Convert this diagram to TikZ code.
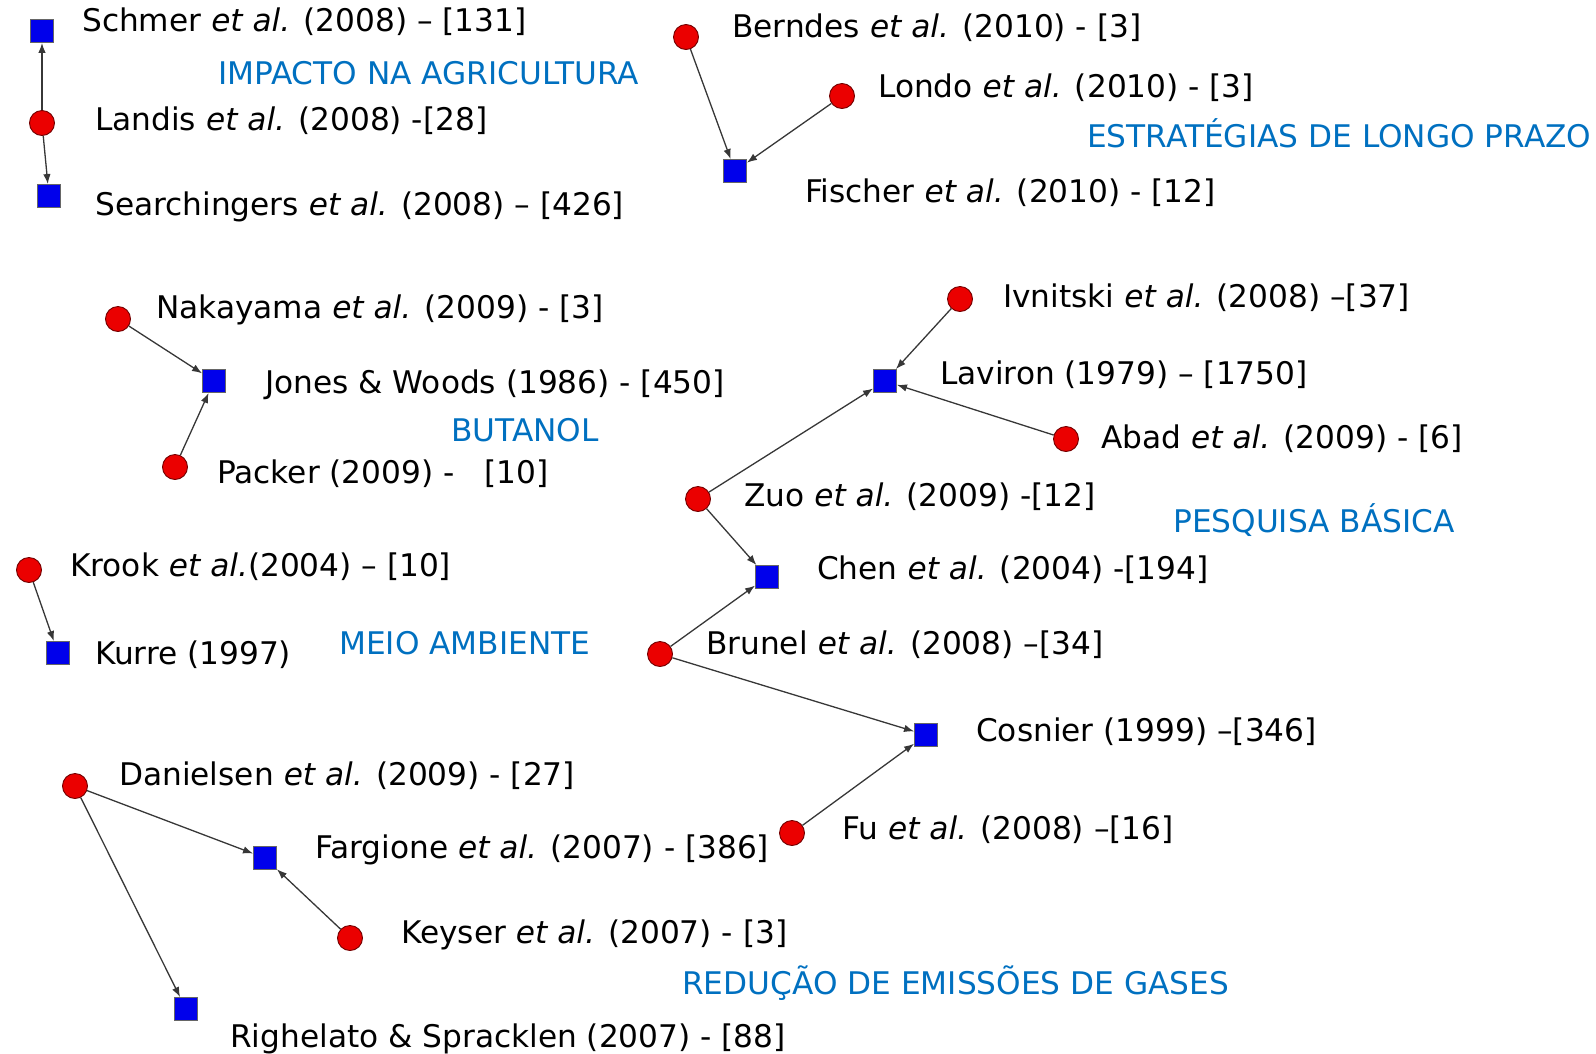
\documentclass[tikz,border=0pt]{standalone}
\usepackage{fontspec}
\setmainfont{DejaVu Sans}
\usetikzlibrary{arrows.meta}
\definecolor{nodeblue}{RGB}{0,0,235}
\definecolor{nodered}{RGB}{235,0,0}
\definecolor{themeblue}{RGB}{0,112,192}
\definecolor{edgegray}{RGB}{55,55,55}
\newcommand{\etal}{\textit{et al.}}
\begin{document}
\begin{tikzpicture}[x=1pt,y=-1pt,
  paper/.style={rectangle,fill=nodeblue,draw=black!60,line width=0.9pt,minimum size=23pt,inner sep=0pt},
  citing/.style={circle,fill=nodered,draw=red!45!black,line width=0.9pt,minimum size=25pt,inner sep=0pt},
  ref/.style={anchor=base west,inner sep=0pt,font=\fontsize{31.2}{36}\selectfont},
  theme/.style={anchor=base west,inner sep=0pt,text=themeblue,font=\fontsize{31.2}{36}\selectfont},
  link/.style={draw=edgegray,line width=1.3pt,-{Latex[length=10pt,width=7.5pt]}}]
\useasboundingbox (0,0) rectangle (1596,1053);

% impacto na agricultura
\node[paper]  (schmer)  at (42,31) {};
\node[citing] (landis)  at (42,123) {};
\node[paper]  (search)  at (49,196) {};
\node[ref] (tschmer) at (82,31) {Schmer \etal{} (2008) – [131]};
\node[ref] (tlandis) at (95,130) {Landis \etal{} (2008) -[28]};
\node[ref] (tsearch) at (95,215) {Searchingers \etal{} (2008) – [426]};
\node[theme] (gagri) at (218,84) {IMPACTO NA AGRICULTURA};
\draw[link] (landis) -- (schmer);
\draw[link] (landis) -- (search);

% estrategias de longo prazo
\node[citing] (berndes) at (686,37) {};
\node[citing] (londo)   at (842,96) {};
\node[paper]  (fischer) at (735,171) {};
\node[ref] (tberndes) at (732,37) {Berndes \etal{} (2010) - [3]};
\node[ref] (tlondo)   at (878,97) {Londo \etal{} (2010) - [3]};
\node[ref] (tfischer) at (805,202) {Fischer \etal{} (2010) - [12]};
\node[theme] (gestr) at (1087,147) {ESTRATÉGIAS DE LONGO PRAZO};
\draw[link] (berndes) -- (fischer);
\draw[link] (londo) -- (fischer);

% butanol
\node[citing] (nakayama) at (118,319) {};
\node[paper]  (jones)    at (214,381) {};
\node[citing] (packer)   at (175,467) {};
\node[ref] (tnakayama) at (156,318) {Nakayama \etal{} (2009) - [3]};
\node[ref] (tjones)    at (265,393) {Jones \& Woods (1986) - [450]};
\node[ref] (tpacker)   at (217,483) {Packer (2009) - \ \ [10]};
\node[theme] (gbut) at (451,441) {BUTANOL};
\draw[link] (nakayama) -- (jones);
\draw[link] (packer) -- (jones);

% pesquisa basica
\node[citing] (ivnitski) at (960,299) {};
\node[paper]  (laviron)  at (885,381) {};
\node[citing] (abad)     at (1066,439) {};
\node[citing] (zuo)      at (698,499) {};
\node[paper]  (chen)     at (767,577) {};
\node[citing] (brunel)   at (660,654) {};
\node[paper]  (cosnier)  at (926,735) {};
\node[citing] (fu)       at (792,833) {};
\node[ref] (tivnitski) at (1003,307) {Ivnitski \etal{} (2008) –[37]};
\node[ref] (tlaviron)  at (940,384) {Laviron (1979) – [1750]};
\node[ref] (tabad)     at (1101,448) {Abad \etal{} (2009) - [6]};
\node[ref] (tzuo)      at (744,506) {Zuo \etal{} (2009) -[12]};
\node[ref] (tchen)     at (817,579) {Chen \etal{} (2004) -[194]};
\node[ref] (tbrunel)   at (706,654) {Brunel \etal{} (2008) –[34]};
\node[ref] (tcosnier)  at (976,741) {Cosnier (1999) –[346]};
\node[ref] (tfu)       at (842,839) {Fu \etal{} (2008) –[16]};
\node[theme] (gpesq) at (1173,532) {PESQUISA BÁSICA};
\draw[link] (ivnitski) -- (laviron);
\draw[link] (abad) -- (laviron);
\draw[link] (zuo) -- (laviron);
\draw[link] (zuo) -- (chen);
\draw[link] (brunel) -- (chen);
\draw[link] (brunel) -- (cosnier);
\draw[link] (fu) -- (cosnier);

% meio ambiente
\node[citing] (krook) at (29,570) {};
\node[paper]  (kurre) at (58,653) {};
\node[ref] (tkrook) at (70,576) {Krook \textit{et al.}(2004) – [10]};
\node[ref] (tkurre) at (95,664) {Kurre (1997)};
\node[theme] (gmeio) at (339,654) {MEIO AMBIENTE};
\draw[link] (krook) -- (kurre);

% reducao de emissoes de gases
\node[citing] (danielsen) at (75,786) {};
\node[paper]  (fargione)  at (265,858) {};
\node[citing] (keyser)    at (350,938) {};
\node[paper]  (righelato) at (186,1009) {};
\node[ref] (tdanielsen) at (119,785) {Danielsen \etal{} (2009) - [27]};
\node[ref] (tfargione)  at (315,858) {Fargione \etal{} (2007) - [386]};
\node[ref] (tkeyser)    at (401,943) {Keyser \etal{} (2007) - [3]};
\node[ref] (trighelato) at (230,1047) {Righelato \& Spracklen (2007) - [88]};
\node[theme] (ggases) at (682,994) {REDUÇÃO DE EMISSÕES DE GASES};
\draw[link] (danielsen) -- (fargione);
\draw[link] (danielsen) -- (righelato);
\draw[link] (keyser) -- (fargione);
\end{tikzpicture}
\end{document}
